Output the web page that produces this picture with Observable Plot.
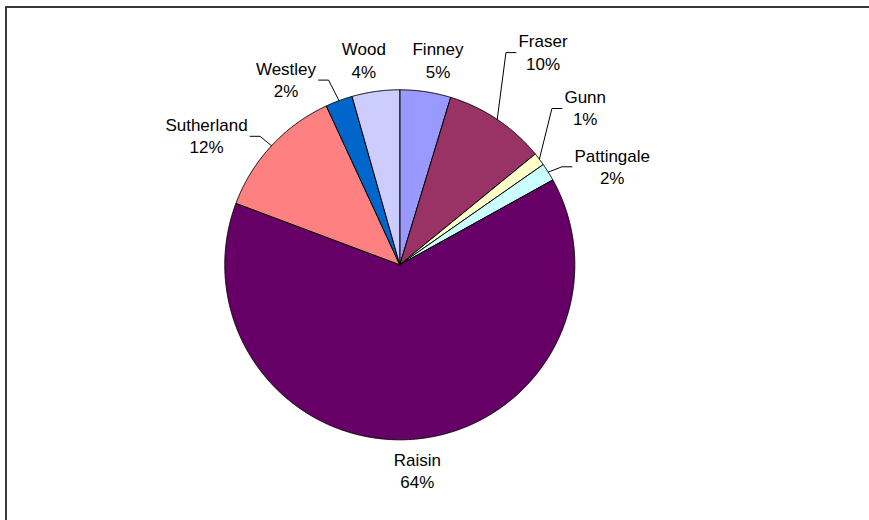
<!DOCTYPE html>
<html>
<head>
<meta charset="utf-8">
<script src="https://cdn.jsdelivr.net/npm/d3@7"></script>
<script src="https://cdn.jsdelivr.net/npm/@observablehq/plot@0.6"></script>
<style>
  html, body { margin: 0; padding: 0; background: #fff; overflow: hidden; }
  #wrap { position: relative; width: 869px; height: 520px; overflow: hidden; }
  #border { position: absolute; left: 5px; top: 6px; width: 900px; height: 600px;
            border-left: 2px solid #3a3a3a; border-top: 2px solid #3a3a3a; pointer-events: none; }
</style>
</head>
<body>
<div id="wrap"><div id="chart"></div><div id="border"></div></div>
<script>
// ---- data ----
const names = ["Finney", "Fraser", "Gunn", "Pattingale", "Raisin", "Sutherland", "Westley", "Wood"];
const shares = [4.7, 9.4, 1.2, 1.65, 63.8, 12.4, 2.5, 4.4];
const percentLabels = ["5%", "10%", "1%", "2%", "64%", "12%", "2%", "4%"];
const sliceColors = ["#9999FF", "#993366", "#FFFFCC", "#CCFFFF", "#660066", "#FF8080", "#0066CC", "#CCCCFF"];

// ---- layout ----
const W = 869, H = 520;
const CX = 399.3, CY = 264.3, R = 175;
const FONT_SIZE = 17;
const FONT = '"Liberation Sans", Arial, Helvetica, sans-serif';
// label block centre, relative to the pie centre (px)
const labelOffset = {
  Finney: [38.2, -205.4], Fraser: [143.2, -213.5], Gunn: [185.4, -157.6],
  Pattingale: [212.4, -99.3], Raisin: [17.5, 204.7], Sutherland: [-193.3, -129.8],
  Westley: [-113.8, -186], Wood: [-36, -205.4]
};
const withLeader = new Set(["Fraser", "Gunn", "Pattingale", "Westley", "Sutherland"]);

const rows = names.map((name, i) => ({name, share: shares[i], pct: percentLabels[i]}));
const arcs = d3.pie().sort(null).value(d => d.share)(rows);

// slice outlines (pie geometry from d3.pie angles)
const slicePts = [];
const STEP = Math.PI / 720;
for (const a of arcs) {
  const name = a.data.name;
  slicePts.push({name, x: 0, y: 0});
  const n = Math.max(2, Math.ceil((a.endAngle - a.startAngle) / STEP));
  for (let k = 0; k <= n; k++) {
    const t = a.startAngle + (a.endAngle - a.startAngle) * k / n;
    slicePts.push({name, x: R * Math.sin(t), y: -R * Math.cos(t)});
  }
  slicePts.push({name, x: 0, y: 0});
}

// text measurement
const ctx = document.createElement("canvas").getContext("2d");
ctx.font = `${FONT_SIZE}px ${FONT}`;
const textWidth = s => ctx.measureText(s).width;

const labelRows = [];
const leaderPts = [];
for (const a of arcs) {
  const name = a.data.name;
  const [lx, ly] = labelOffset[name];
  labelRows.push({name, x: lx, y: ly, text: `${name}\n${a.data.pct}`});
  if (withLeader.has(name)) {
    const mid = (a.startAngle + a.endAngle) / 2;
    const w = Math.max(textWidth(name), textWidth(a.data.pct));
    const right = lx > 0;
    const edge = right ? lx - w / 2 : lx + w / 2;
    const sgn = right ? -1 : 1;
    const yy = ly + 1.3;
    leaderPts.push({name, x: R * Math.sin(mid), y: -R * Math.cos(mid)});
    leaderPts.push({name, x: edge + sgn * 12.5, y: yy});
    leaderPts.push({name, x: edge + sgn * 2.5, y: yy});
  }
}

const chart = Plot.plot({
  width: W,
  height: H,
  margin: 0,
  x: {domain: [-CX, W - CX], range: [0, W], axis: null},
  y: {domain: [-CY, H - CY], range: [0, H], axis: null},
  color: {domain: names, range: sliceColors},
  style: {fontFamily: FONT, fontSize: `${FONT_SIZE}px`, background: "#fff", color: "#000"},
  marks: [
    Plot.line(slicePts, {x: "x", y: "y", z: "name", fill: "name", stroke: "#000", strokeWidth: 1, strokeLinejoin: "round"}),
    Plot.line(leaderPts, {x: "x", y: "y", z: "name", stroke: "#000", strokeWidth: 1}),
    Plot.text(labelRows, {x: "x", y: "y", text: "text", fontSize: FONT_SIZE, lineHeight: 1.31,
                          lineAnchor: "middle", textAnchor: "middle", fill: "#000"})
  ]
});
document.getElementById("chart").appendChild(chart);
</script>
</body>
</html>
